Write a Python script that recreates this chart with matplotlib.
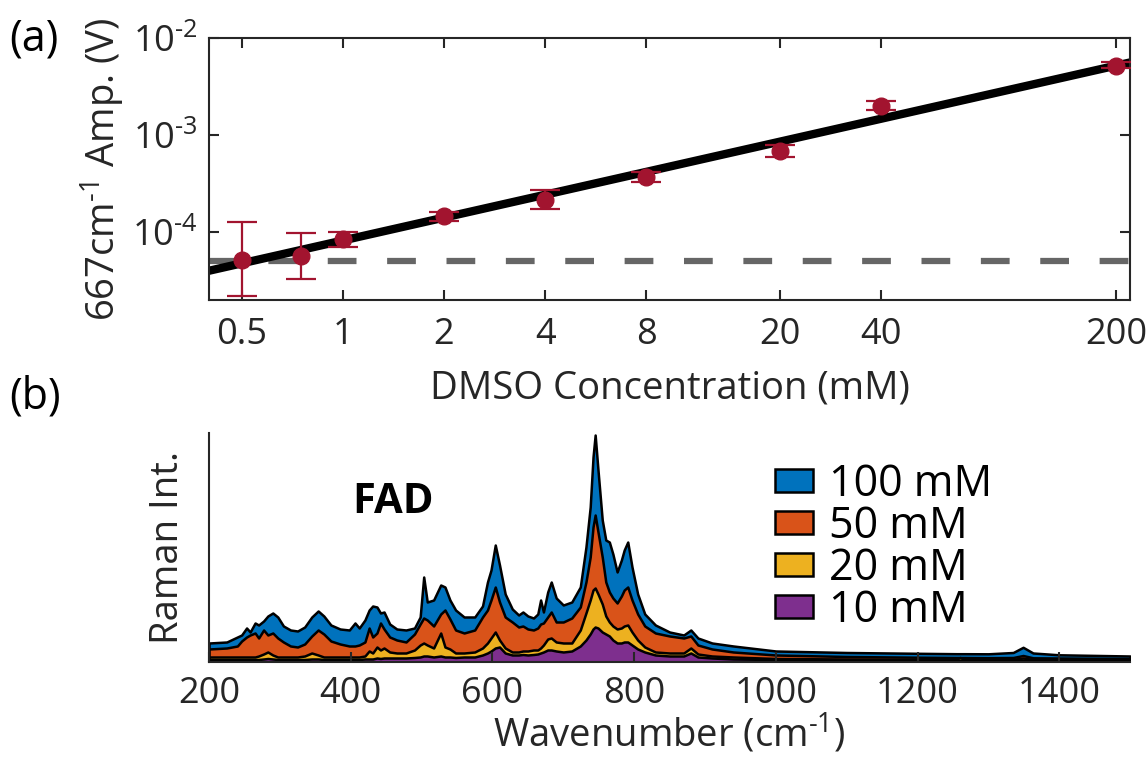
import numpy as np
import matplotlib
matplotlib.use("Agg")
import matplotlib.pyplot as plt
from matplotlib.patches import Patch
from matplotlib.ticker import FuncFormatter

plt.rcParams["font.family"] = ["Open Sans", "DejaVu Sans"]
plt.rcParams["mathtext.fontset"] = "custom"
plt.rcParams["mathtext.rm"] = "Open Sans"
plt.rcParams["mathtext.it"] = "Open Sans"
plt.rcParams["axes.linewidth"] = 1.5
plt.rcParams["xtick.direction"] = "in"
plt.rcParams["ytick.direction"] = "in"

AX_COLOR = "#262626"
RED = "#A2142F"

# ---- panel (a): 667 cm-1 amplitude vs DMSO concentration ----
conc = [0.5, 0.75, 1, 2, 4, 8, 20, 40, 200]
amp = [5.2e-5, 5.7e-5, 8.45e-5, 1.47e-4, 2.15e-4, 3.7e-4, 6.9e-4, 2.0e-3, 5.2e-3]
amp_lo = [2.2e-5, 3.3e-5, 6.95e-5, 1.29e-4, 1.74e-4, 3.3e-4, 6.0e-4, 1.82e-3, 4.85e-3]
amp_hi = [1.26e-4, 9.75e-5, 1.01e-4, 1.63e-4, 2.73e-4, 4.18e-4, 7.9e-4, 2.25e-3, 5.6e-3]
fit_a, fit_b = 8.2e-5, 0.783      # amp = a * conc**b
noise_floor = 5.0e-5
conc_ticks = [0.5, 1, 2, 4, 8, 20, 40, 200]

# ---- panel (b): FAD Raman spectra ----
wn = [200, 225, 240, 246, 253, 258, 265, 270, 277, 283, 290, 297, 305, 315, 325, 335,
      345, 354, 362, 372, 385, 398, 406, 412, 420, 426, 431, 437, 442, 447, 455, 465,
      478, 490, 498, 503, 508, 517, 527, 533, 540, 548, 560, 575, 586, 593, 598, 604,
      610, 618, 628, 637, 643, 650, 658, 664, 668, 672, 678, 683, 690, 700, 712, 724,
      732, 738, 742, 745, 749, 755, 760, 765, 770, 776, 782, 786, 791, 797, 805, 815,
      830, 850, 870, 880, 890, 910, 940, 1000, 1100, 1200, 1255, 1260, 1265, 1300,
      1335, 1349, 1363, 1400, 1500]
int_100 = [19, 20, 25, 27, 34, 30, 39, 37, 41, 46, 49, 45, 36, 32, 31, 35,
           45, 51, 46, 37, 33, 32, 39, 34, 42, 52, 56, 55, 49, 50, 38, 33,
           32, 34, 45, 85, 60, 62, 77, 75, 62, 52, 45, 45, 56, 80, 92, 117,
           97, 68, 53, 47, 50, 46, 44, 48, 62, 50, 70, 80, 64, 57, 60, 75,
           115, 155, 205, 227, 192, 142, 122, 120, 108, 90, 102, 112, 120, 95, 68, 48,
           37, 30, 27, 32, 24, 19, 16, 11, 9.5, 8.7, 8.3, 8.3, 8.3, 8.2,
           9.5, 14.7, 9, 7.2, 6]
int_50 = [13, 14, 16, 21, 25, 27, 29, 24, 32, 27, 29, 24, 20, 16, 15, 18,
          26, 32, 28, 21, 18, 16, 16, 17, 20, 34, 25, 29, 39, 33, 25, 22,
          20, 28, 38, 44, 42, 36, 48, 52, 43, 32, 29, 32, 45, 52, 62, 75,
          60, 45, 40, 35, 36, 33, 32, 34, 38, 39, 45, 50, 40, 40, 44, 55,
          80, 105, 135, 147, 130, 105, 80, 70, 64, 59, 66, 72, 75, 62, 48, 36,
          29, 26, 24, 26, 17, 13, 10, 7, 5.5, 4.8, 4.5, 4.5, 4.5, 4.3,
          4.5, 6.5, 4.2, 4, 3.5]
int_20 = [5, 5, 5, 5, 5, 5, 5, 6, 8, 10, 7, 5, 5, 5, 5, 6,
          9, 7, 5, 5, 5, 5, 5, 5, 6, 11, 9, 15, 12, 14, 10, 9,
          9, 12, 17, 19, 17, 14, 29, 15, 13, 9, 9, 10, 14, 19, 24, 30,
          22, 14, 10, 10, 11, 11, 12, 12, 14, 17, 23, 24, 20, 19, 19, 32,
          49, 62, 72, 74, 68, 58, 46, 40, 36, 33, 34, 36, 37, 30, 22, 15,
          10, 9, 9, 14, 8, 6, 5, 3.5, 3, 2.8, 2.8, 4.5, 2.8, 2.7,
          2.7, 4, 2.6, 2.5, 2.3]
int_10 = [2.5, 2.5, 2.5, 2.5, 2.5, 2.5, 2.5, 2.5, 3, 3.5, 3, 2.5, 2.5, 2.5, 2.5, 2.5,
          3, 3, 2.5, 2.5, 2.5, 2.5, 2.5, 2.5, 3, 3, 3, 4, 3.5, 4, 4, 4,
          4, 4.5, 5, 6, 6, 5, 6, 5, 5, 4.5, 5, 5, 7, 9, 11, 14,
          15, 9, 7, 7, 7.5, 7, 7.5, 8, 9, 10, 12, 12, 11, 10, 11, 16,
          22, 28, 33, 35, 34, 30, 28, 26, 22, 19, 19, 20, 20, 17, 13, 10,
          7, 6, 6, 9, 5, 4, 3, 2.5, 2, 1.8, 1.8, 1.8, 1.8, 1.7,
          1.7, 2, 1.7, 1.6, 1.5]
spectra_labels = ["100 mM", "50 mM", "20 mM", "10 mM"]
spectra_colors = ["#0072BD", "#D95319", "#EDB120", "#7E2F8E"]

TICK_FS = 26
LABEL_FS = 27.5

fig = plt.figure(figsize=(11.46, 7.61), dpi=100)

# (a)
ax1 = fig.add_axes([0.1824, 0.6058, 0.8037, 0.3443])
ax1.set_xscale("log")
ax1.set_yscale("log")
ax1.axhline(noise_floor, color="#666666", lw=4.5, dashes=(4.6, 4.9), zorder=1)
xf = np.logspace(np.log10(0.4), np.log10(220), 50)
ax1.plot(xf, fit_a * xf ** fit_b, color="black", lw=6, zorder=2)
amp_arr = np.array(amp)
yerr = [amp_arr - np.array(amp_lo), np.array(amp_hi) - amp_arr]
ax1.errorbar(conc, amp, yerr=yerr, fmt="o", color=RED, ms=12, elinewidth=1.6,
             capsize=11, capthick=1.6, zorder=3)
ax1.set_xlim(0.4, 220)
ax1.set_ylim(2.0e-5, 1e-2)
ax1.set_xticks(conc_ticks)
ax1.set_xticklabels([f"{c:g}" for c in conc_ticks])
ax1.set_yticks([1e-4, 1e-3, 1e-2])
ax1.yaxis.set_major_formatter(
    FuncFormatter(lambda v, _: r"10$^{\text{-}%d}$" % round(-np.log10(v))))
ax1.minorticks_off()
ax1.tick_params(which="both", top=True, right=True, length=7, width=1.5,
                colors=AX_COLOR, labelsize=TICK_FS)
ax1.tick_params(axis="x", pad=12)
ax1.tick_params(axis="y", pad=8)
for sp in ax1.spines.values():
    sp.set_color(AX_COLOR)
ax1.set_xlabel("DMSO Concentration (mM)", fontsize=LABEL_FS, color=AX_COLOR, labelpad=12)
ax1.set_ylabel(r"667cm$^{\text{-}1}$ Amp. (V)", fontsize=LABEL_FS, color=AX_COLOR, labelpad=4)
fig.text(0.008, 0.948, "(a)", fontsize=31, color="black", va="center")

# (b)
ax2 = fig.add_axes([0.1824, 0.1301, 0.8037, 0.3009])
series = [int_100, int_50, int_20, int_10]
for vals, lab, col in zip(series, spectra_labels, spectra_colors):
    ax2.fill_between(wn, 0, vals, facecolor=col, edgecolor="black", lw=1.8, label=lab)
ax2.set_xlim(200, 1500)
ax2.set_ylim(0, 229)
ax2.set_yticks([])
ax2.set_xticks(range(200, 1501, 200))
ax2.spines["top"].set_visible(False)
ax2.spines["right"].set_visible(False)
for sp in ax2.spines.values():
    sp.set_color(AX_COLOR)
ax2.tick_params(axis="x", length=7, width=1.5, colors=AX_COLOR, labelsize=TICK_FS, pad=10)
ax2.set_xlabel(r"Wavenumber (cm$^{\text{-}1}$)", fontsize=LABEL_FS, color=AX_COLOR, labelpad=0)
ax2.set_ylabel("Raman Int.", fontsize=LABEL_FS, color=AX_COLOR, labelpad=16)
ax2.text(459, 160, "FAD", fontsize=30, fontweight="bold", ha="center", va="center")
handles = [Patch(facecolor=c, edgecolor="black", lw=1.8) for c in spectra_colors]
ax2.legend(handles, spectra_labels, loc="upper left", bbox_to_anchor=(0.614, 0.87),
           frameon=False, fontsize=31, handlelength=0.9, handleheight=0.44,
           labelspacing=-0.06, handletextpad=0.37, borderaxespad=0, borderpad=0)
fig.text(0.008, 0.478, "(b)", fontsize=31, color="black", va="center")

fig.savefig("out.png", dpi=100)
